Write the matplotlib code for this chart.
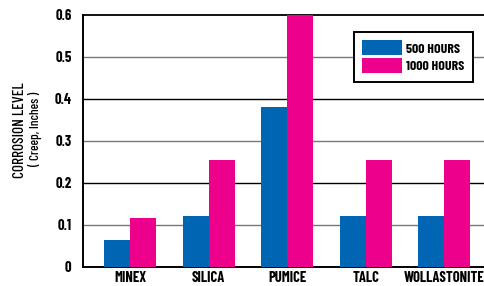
import matplotlib
matplotlib.use("Agg")
import matplotlib.pyplot as plt
import numpy as np

categories = ["MINEX", "SILICA", "PUMICE", "TALC", "WOLLASTONITE"]
hours_500 = [0.063, 0.12, 0.38, 0.12, 0.12]
hours_1000 = [0.117, 0.253, 0.6, 0.253, 0.253]
series_labels = ["500 HOURS", "1000 HOURS"]
yticks = [0, 0.1, 0.2, 0.3, 0.4, 0.5, 0.6]
ytick_labels = ["0", "0.1", "0.2", "0.3", "0.4", "0.5", "0.6"]

BLUE = "#0066B3"
PINK = "#EC008C"

plt.rcParams['font.family'] = ['Barlow Condensed', 'DejaVu Sans']
fp = dict(fontweight='bold')

fig = plt.figure(figsize=(4.85, 2.86), dpi=100)
ax = fig.add_axes([0.1705, 0.0675, 0.8295, 0.8815])

x = np.arange(len(categories))
w = 0.331
ax.bar(x - w/2, hours_500, width=w, color=BLUE, label=series_labels[0], zorder=3)
ax.bar(x + w/2, hours_1000, width=w, color=PINK, label=series_labels[1], zorder=3)

ax.set_xlim(-0.603, 4.52)
ax.set_ylim(0, 0.6)
ax.set_yticks(yticks)
ax.set_yticklabels(ytick_labels, fontsize=10.5, **fp)
ax.set_xticks(x)
ax.set_xticklabels(categories, fontsize=10.5, **fp)
ax.tick_params(axis='y', length=0, pad=8)
ax.tick_params(axis='x', length=0, pad=3)

for i, yv in enumerate(yticks[1:-1], start=1):
    ax.axhline(yv, color=("#000000" if i % 2 == 0 else "#777777"), lw=1.0, zorder=1)
ax.axhline(0.6, color="#111111", lw=1.4, zorder=1, clip_on=False)

ax.spines["right"].set_visible(False)
ax.spines["top"].set_visible(False)
ax.spines["left"].set_linewidth(1.4)
ax.spines["bottom"].set_linewidth(1.4)

leg = ax.legend(loc="upper left", bbox_to_anchor=(0.674, 0.931),
                prop=dict(size=10, weight='bold'),
                handlelength=2.9, handleheight=1.3, labelspacing=0.2,
                handletextpad=0.25, borderpad=0.6, borderaxespad=0,
                frameon=True, fancybox=False)
leg.get_frame().set_edgecolor("black")
leg.get_frame().set_linewidth(1.4)
leg.get_frame().set_alpha(1)

fig.text(0.041, 1 - 130/286, "CORROSION LEVEL", rotation=90, ha="center", va="center",
         fontsize=11, fontweight='medium')
fig.text(0.072, 1 - 129/286, "( Creep, Inches )", rotation=90, ha="center", va="center",
         fontsize=9.5, fontweight='medium')

fig.savefig("out.png", dpi=100)
